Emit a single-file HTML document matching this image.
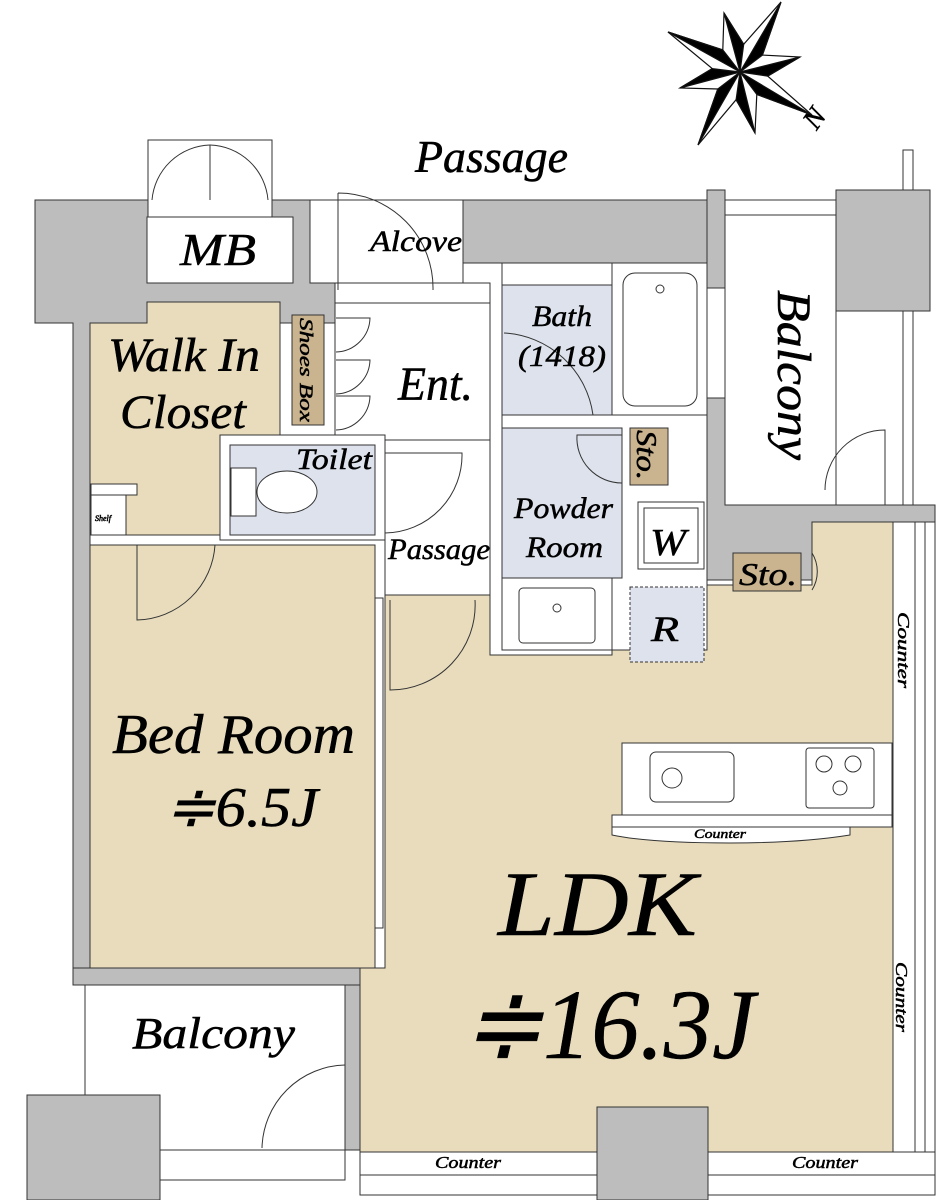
<!DOCTYPE html>
<html><head><meta charset="utf-8"><style>
html,body{margin:0;padding:0;background:#fff}
svg{display:block}
text{font-family:"Liberation Serif",serif;font-style:italic;fill:#000;stroke:#000;stroke-width:0.5}
</style></head><body>
<svg width="941" height="1200" viewBox="0 0 941 1200" xmlns="http://www.w3.org/2000/svg">
<!-- compass -->
<g stroke="#111" stroke-width="1.2" stroke-linejoin="miter">
<polygon points="781,2 762.4,55.1 800,57 767.7,76.1 812,115 756.8,94.4 755,133 736.1,99.7 698,145 717.8,89 680,88 712.2,68.6 668,32 722.8,49.9 724,13 743.7,44.3" fill="#fff"/>
<polygon points="740,72 781,2 762.4,55.1" fill="#000"/>
<polygon points="740,72 800,57 767.7,76.1" fill="#000"/>
<polygon points="740,72 812,115 756.8,94.4" fill="#000"/>
<polygon points="740,72 755,133 736.1,99.7" fill="#000"/>
<polygon points="740,72 698,145 717.8,89" fill="#000"/>
<polygon points="740,72 680,88 712.2,68.6" fill="#000"/>
<polygon points="740,72 668,32 722.8,49.9" fill="#000"/>
<polygon points="740,72 724,13 743.7,44.3" fill="#000"/>
</g>
<text x="818" y="122" font-size="28" transform="rotate(-55 826 128)">N</text>

<g fill="#fff" stroke="#333" stroke-width="1">
<rect x="903" y="150" width="10" height="355"/>
</g>
<g fill="#bdbdbd" stroke="#333" stroke-width="1">
<polygon points="35,200 335,200 335,323 90,323 90,985 73,985 73,323 35,323"/>
<rect x="463" y="200" width="262" height="63"/>
<rect x="707" y="190" width="18" height="320"/>
<polygon points="668,390 725,390 725,505 935,505 935,522 812,522 812,580 668,580"/>
<rect x="836" y="190" width="94" height="121"/>
<rect x="345" y="968" width="15" height="182"/>
<rect x="73" y="968" width="287" height="17"/>
</g>
<g fill="#fff" stroke="#333" stroke-width="1">
<rect x="147" y="217" width="146" height="66"/>
<rect x="310" y="200" width="153" height="83"/>
<rect x="148" y="140" width="124" height="77"/>
<rect x="335" y="283" width="155" height="20"/>
<rect x="725" y="200" width="111" height="15"/>
<rect x="725" y="215" width="111" height="290"/>
</g>
<g fill="none" stroke="#333" stroke-width="1">
<line x1="210" y1="145" x2="210" y2="200"/>
<path d="M210,145 A60,60 0 0 0 152,200"/><path d="M210,145 A60,60 0 0 1 268,200"/>
<path d="M338,193 A95,95 0 0 1 433,290 M338,193 V290"/>
<path d="M825,490 A60,60 0 0 1 885,430 V505"/>
</g>
<g fill="#e8dcbd" stroke="#333" stroke-width="1">
<polygon points="90,323 147,323 147,302 280,302 280,435 220,435 220,535 90,535"/>
<rect x="90" y="545" width="285" height="423"/>
<polygon points="812,522 893,522 893,1152 360,1152 360,968 385,968 385,595 490,595 490,655 612,655 612,585 812,585"/>
<rect x="292" y="315" width="32" height="110" fill="#c9b48f"/>
</g>
<rect x="91" y="484" width="46" height="11" fill="#fff" stroke="#333"/>
<rect x="91" y="495" width="35" height="40" fill="#fff" stroke="#333"/>
<rect x="335" y="303" width="155" height="137" fill="#fff" stroke="#333"/>
<rect x="385" y="440" width="105" height="155" fill="#fff" stroke="#333"/>
<path d="M336,318 H370 A35,35 0 0 1 336,352 M336,360 H370 A35,35 0 0 1 336,394 M336,396 H370 A35,35 0 0 1 336,430" fill="none" stroke="#333"/>
<path d="M385,453 H462 A78,78 0 0 1 385,533" fill="none" stroke="#333"/>
<path d="M390,600 V690 A85,85 0 0 0 475,600" fill="none" stroke="#333"/>
<rect x="220" y="435" width="165" height="105" fill="#fff" stroke="#333"/>
<rect x="230" y="445" width="145" height="90" fill="#dde2ec" stroke="#333"/>
<rect x="231" y="468" width="25" height="48" fill="#fff" stroke="#333"/>
<ellipse cx="287" cy="492" rx="30" ry="21" fill="#fff" stroke="#333"/>
<path d="M137,545 V620 A80,80 0 0 0 215,545" fill="none" stroke="#333"/>
<rect x="375" y="598" width="8" height="330" fill="#fff" stroke="#333"/>
<rect x="502" y="263" width="205" height="387" fill="#fff" stroke="#333"/>
<rect x="502" y="285" width="110" height="130" fill="#dde2ec" stroke="#333"/>
<rect x="612" y="263" width="95" height="152" fill="#fff" stroke="#333"/>
<rect x="623" y="273" width="74" height="133" rx="12" fill="#fff" stroke="#333"/>
<circle cx="660" cy="289" r="4" fill="#fff" stroke="#333"/>
<rect x="707" y="288" width="18" height="110" fill="#fff" stroke="#333"/>
<path d="M504,333 A95,95 0 0 1 593,415" fill="none" stroke="#333"/>
<rect x="502" y="428" width="120" height="150" fill="#dde2ec" stroke="#333"/>
<rect x="630" y="428" width="38" height="57" fill="#c9b48f" stroke="#333"/>
<path d="M622,435 H577 A45,45 0 0 0 622,483" fill="none" stroke="#333"/>
<rect x="638" y="502" width="66" height="67" fill="#fff" stroke="#333"/>
<rect x="644" y="508" width="54" height="55" fill="#fff" stroke="#333"/>
<rect x="502" y="578" width="110" height="72" fill="#fff" stroke="#333"/>
<rect x="519" y="588" width="76" height="55" rx="4" fill="#fff" stroke="#333"/>
<circle cx="557" cy="608" r="4" fill="#fff" stroke="#333"/>
<rect x="630" y="587" width="74" height="75" fill="#dde2ec" stroke="#333" stroke-dasharray="3,2"/>
<rect x="733" y="553" width="68" height="38" fill="#c9b48f" stroke="#333"/>
<path d="M812,553 A35,35 0 0 1 812,590" fill="none" stroke="#333"/>
<rect x="622" y="743" width="270" height="72" fill="#fff" stroke="#333"/>
<rect x="612" y="815" width="280" height="12" fill="#fff" stroke="#333"/>
<path d="M612,827 H850 V835 Q800,843 730,843 Q650,843 612,835Z" fill="#fff" stroke="#333"/>
<rect x="650" y="752" width="84" height="50" rx="6" fill="#fff" stroke="#333"/>
<circle cx="672" cy="778" r="10" fill="#fff" stroke="#333"/>
<rect x="806" y="748" width="68" height="60" rx="3" fill="#fff" stroke="#333"/>
<circle cx="824" cy="764" r="8" fill="none" stroke="#333"/>
<circle cx="853" cy="764" r="8" fill="none" stroke="#333"/>
<circle cx="840" cy="788" r="7" fill="none" stroke="#333"/>
<rect x="893" y="522" width="42" height="653" fill="#fff" stroke="#333"/>
<line x1="915" y1="522" x2="915" y2="1175" stroke="#333"/>
<line x1="925" y1="522" x2="925" y2="1175" stroke="#333"/>
<rect x="360" y="1152" width="575" height="23" fill="#fff" stroke="#333"/>
<rect x="360" y="1175" width="575" height="20" fill="#fff" stroke="#333"/>
<rect x="597" y="1107" width="111" height="93" fill="#bdbdbd" stroke="#333"/>
<rect x="85" y="985" width="260" height="165" fill="#fff" stroke="#333"/>
<rect x="160" y="1150" width="185" height="30" fill="#fff" stroke="#333"/>
<path d="M345,1065 A85,85 0 0 0 262,1148" fill="none" stroke="#333"/>
<rect x="27" y="1095" width="133" height="105" fill="#bdbdbd" stroke="#333"/>

<text x="415" y="172" font-size="46" textLength="153" lengthAdjust="spacingAndGlyphs">Passage</text>
<text x="180" y="265" font-size="46" textLength="76" lengthAdjust="spacingAndGlyphs">MB</text>
<text x="370" y="251" font-size="30" textLength="92" lengthAdjust="spacingAndGlyphs">Alcove</text>
<text x="108" y="371" font-size="48" textLength="152" lengthAdjust="spacingAndGlyphs">Walk In</text>
<text x="120" y="428" font-size="48" textLength="126" lengthAdjust="spacingAndGlyphs">Closet</text>
<text x="300" y="318" font-size="19" transform="rotate(90 300 318)" textLength="104" lengthAdjust="spacingAndGlyphs">Shoes Box</text>
<text x="398" y="400" font-size="48" textLength="75" lengthAdjust="spacingAndGlyphs">Ent.</text>
<text x="296" y="469" font-size="30" textLength="76" lengthAdjust="spacingAndGlyphs">Toilet</text>
<text x="95" y="521" font-size="8">Shelf</text>
<text x="388" y="559" font-size="30" textLength="102" lengthAdjust="spacingAndGlyphs">Passage</text>
<text x="532" y="326" font-size="30" textLength="60" lengthAdjust="spacingAndGlyphs">Bath</text>
<text x="518" y="366" font-size="30" textLength="88" lengthAdjust="spacingAndGlyphs">(1418)</text>
<text x="637" y="430" font-size="28" transform="rotate(90 637 430)" textLength="50" lengthAdjust="spacingAndGlyphs">Sto.</text>
<text x="514" y="518" font-size="30" textLength="99" lengthAdjust="spacingAndGlyphs">Powder</text>
<text x="526" y="557" font-size="30" textLength="77" lengthAdjust="spacingAndGlyphs">Room</text>
<text x="650" y="555" font-size="38" textLength="36" lengthAdjust="spacingAndGlyphs">W</text>
<text x="651" y="641" font-size="36" textLength="28" lengthAdjust="spacingAndGlyphs">R</text>
<text x="739" y="585" font-size="32" textLength="58" lengthAdjust="spacingAndGlyphs">Sto.</text>
<text x="778" y="290" font-size="48" transform="rotate(90 778 290)" textLength="170" lengthAdjust="spacingAndGlyphs">Balcony</text>
<text x="112" y="753" font-size="56" textLength="243" lengthAdjust="spacingAndGlyphs">Bed Room</text>
<text x="165" y="826" font-size="56" textLength="153" lengthAdjust="spacingAndGlyphs">≑6.5J</text>
<text x="498" y="935" font-size="92" textLength="199" lengthAdjust="spacingAndGlyphs">LDK</text>
<text x="462" y="1058" font-size="100" textLength="293" lengthAdjust="spacingAndGlyphs">≑16.3J</text>
<text x="132" y="1048" font-size="44" textLength="163" lengthAdjust="spacingAndGlyphs">Balcony</text>
<text x="694" y="838" font-size="13" textLength="52" lengthAdjust="spacingAndGlyphs">Counter</text>
<text x="898" y="612" font-size="17" transform="rotate(90 898 612)" textLength="76" lengthAdjust="spacingAndGlyphs">Counter</text>
<text x="896" y="962" font-size="17" transform="rotate(90 896 962)" textLength="70" lengthAdjust="spacingAndGlyphs">Counter</text>
<text x="435" y="1168" font-size="17" textLength="66" lengthAdjust="spacingAndGlyphs">Counter</text>
<text x="792" y="1168" font-size="17" textLength="66" lengthAdjust="spacingAndGlyphs">Counter</text>
</svg>
</body></html>
